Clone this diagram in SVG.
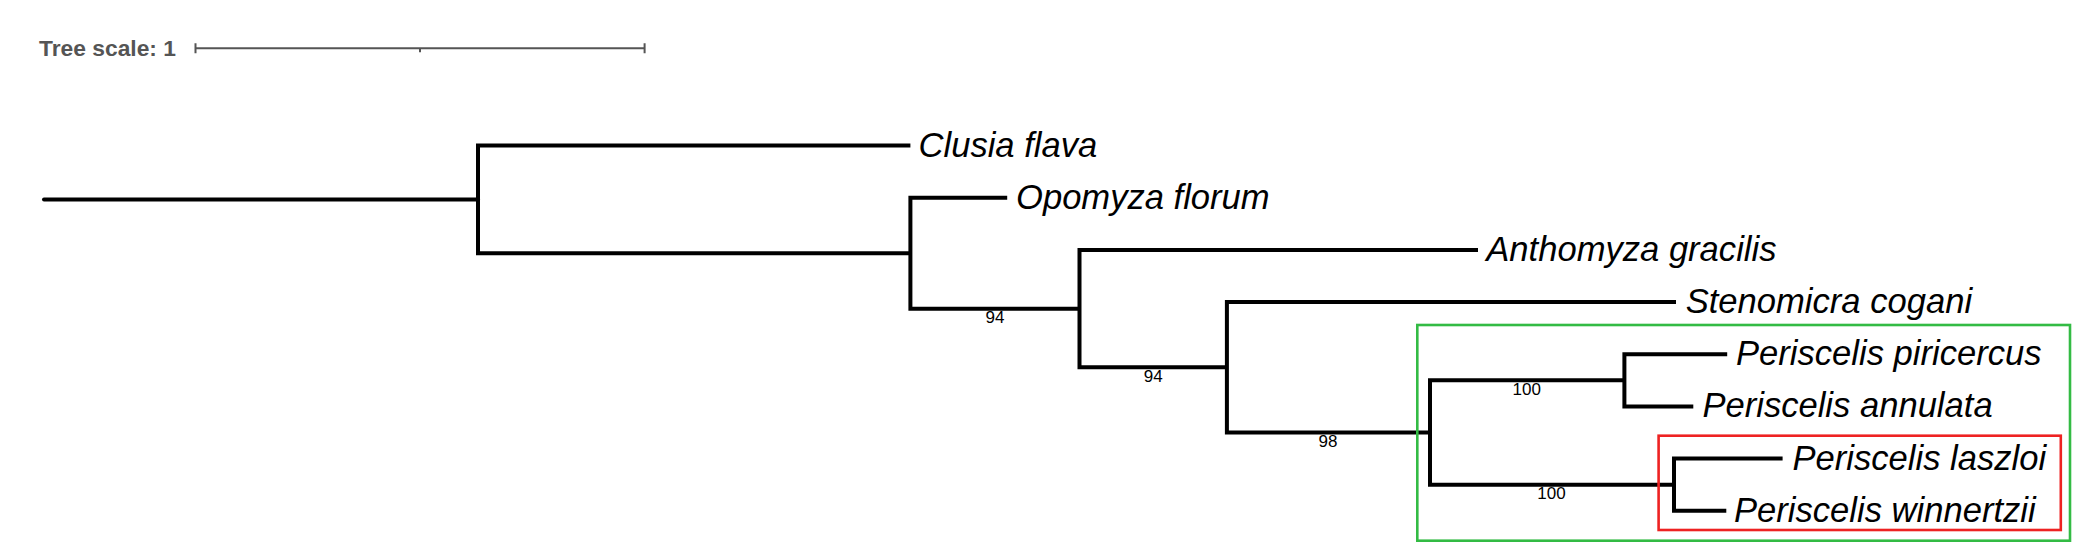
<svg xmlns="http://www.w3.org/2000/svg" width="2087" height="560" viewBox="0 0 2087 560">
<style>
.br{fill:none;stroke:#000;stroke-width:4;stroke-linejoin:miter}
.leaf{font-family:"Liberation Sans",Arial,sans-serif;font-style:italic;font-size:34.6px;fill:#000}
.bs{font-family:"Liberation Sans",Arial,sans-serif;font-size:17px;fill:#000;text-anchor:middle}
.scale{fill:none;stroke:#555;stroke-width:2}
</style>
<rect width="2087" height="560" fill="#fff"/>
<g id="scale">
<text x="39" y="56" font-family="Liberation Sans, Arial, sans-serif" font-weight="bold" font-size="22.5" fill="#555" textLength="137" lengthAdjust="spacingAndGlyphs">Tree scale: 1</text>
<path class="scale" d="M195.5 48.3H644.6M195.5 43.3V53.3M644.6 43.3V53.3M420 48.3V52.3"/>
</g>
<g id="connectors">
<path class="br" stroke-linecap="round" d="M44 199.4H478"/>
<path class="br" d="M910.4 145.5H478V253.2H910.4"/>
<path class="br" d="M1007.2 197.8H910.4V308.65H1079.5"/>
<path class="br" d="M1478 250H1079.5V367.3H1226.9"/>
<path class="br" d="M1676 302.1H1226.9V432.6H1430"/>
<path class="br" d="M1624.4 380.35H1430V484.65H1674"/>
<path class="br" d="M1727.2 354.3H1624.4V406.4H1693.3"/>
<path class="br" d="M1782.6 458.6H1674V510.7H1726.3"/>
</g>
<g id="highlights">
<rect x="1417.3" y="325" width="652.7" height="215.7" fill="none" stroke="#33bb44" stroke-width="2.6"/>
<rect x="1658.6" y="435.7" width="402.2" height="94.3" fill="none" stroke="#ee2222" stroke-width="2.6"/>
</g>
<g id="support">
<text class="bs" x="995" y="322.7">94</text>
<text class="bs" x="1153.2" y="381.7">94</text>
<text class="bs" x="1328" y="447">98</text>
<text class="bs" x="1526.7" y="394.5">100</text>
<text class="bs" x="1551.5" y="499">100</text>
</g>
<g id="clusia_flava"><text class="leaf" x="918.5" y="156.7">Clusia flava</text></g>
<g id="opomyza_florum"><text class="leaf" x="1016" y="208.8">Opomyza florum</text></g>
<g id="anthomyza_gracilis"><text class="leaf" x="1486.3" y="261">Anthomyza gracilis</text></g>
<g id="stenomicra_cogani"><text class="leaf" x="1685.7" y="313.1">Stenomicra cogani</text></g>
<g id="periscelis_piricercus"><text class="leaf" x="1736" y="365.3">Periscelis piricercus</text></g>
<g id="periscelis_annulata"><text class="leaf" x="1702.4" y="417.4">Periscelis annulata</text></g>
<g id="periscelis_laszloi"><text class="leaf" x="1792.5" y="469.6">Periscelis laszloi</text></g>
<g id="periscelis_winnertzii"><text class="leaf" x="1734" y="521.7">Periscelis winnertzii</text></g>
</svg>
